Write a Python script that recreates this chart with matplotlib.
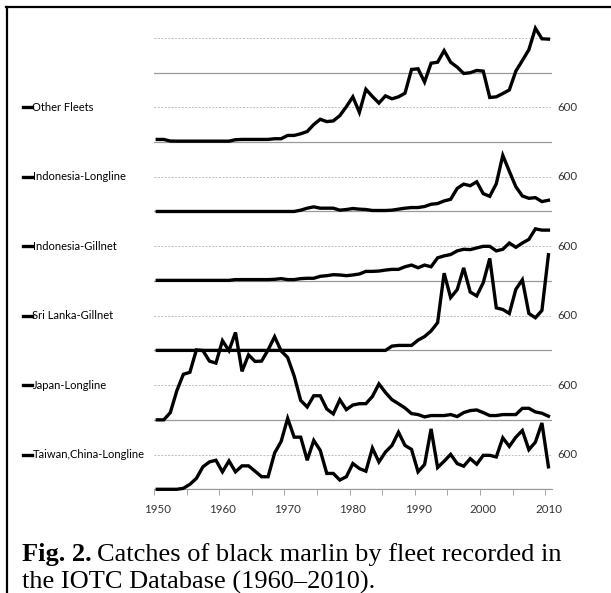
import matplotlib.pyplot as plt
import matplotlib.transforms as mtransforms
from matplotlib.lines import Line2D
import numpy as np

years = np.arange(1950, 2011)

# catches (t), 1950-2010
taiwan = [0, 0, 0, 0, 17, 86, 188, 388, 473, 502,
          302, 490, 302, 405, 405, 313, 217, 217, 627, 827,
          1225, 901, 901, 502, 844, 673, 274, 274, 160, 217,
          445, 359, 313, 712, 473, 644, 758, 986, 758, 690,
          302, 428, 1043, 376, 485, 604, 445, 399, 530, 433,
          587, 587, 559, 889, 741, 901, 1015, 684, 815, 1146,
          388]
japan = [0, 0, 125, 502, 787, 821, 1208, 1197, 1015, 981,
         1368, 1197, 1510, 838, 1123, 1009, 1015, 1208, 1436, 1191,
         1077, 758, 336, 222, 416, 416, 188, 103, 348, 177,
         256, 279, 279, 404, 621, 473, 348, 279, 205, 108,
         91, 51, 74, 74, 74, 91, 57, 125, 160, 171,
         125, 74, 74, 91, 91, 91, 199, 199, 137, 114,
         63]
sriLanka = [0] * 36 + [74, 86, 86, 86,
            177, 239, 336, 479, 1334, 912, 1049, 1425, 1009, 941,
            1169, 1590, 735, 707, 638, 1055, 1220, 638, 564, 690,
            1653]
indoGillnet = [10, 10, 10, 10, 10, 10, 10, 10, 10, 10,
               10, 10, 23, 23, 23, 23, 23, 23, 28, 40,
               23, 23, 40, 46, 46, 80, 91, 108, 103, 91,
               103, 120, 165, 165, 171, 188, 200, 200, 245, 274,
               228, 274, 245, 399, 433, 456, 519, 547, 541, 570,
               598, 598, 519, 547, 655, 581, 655, 718, 900, 878,
               878]
indoLongline = [0] * 22 + [23, 57, 80, 57, 57, 57, 23, 34,
                51, 40, 34, 17, 17, 17, 23, 40, 57, 68,
                68, 86, 125, 137, 182, 211, 399, 473, 445, 513,
                308, 262, 479, 969, 695, 428, 268, 228, 239, 171,
                194]
otherFleets = [45, 45, 17, 15, 15, 15, 15, 15, 15, 15,
               15, 15, 40, 45, 45, 45, 45, 45, 57, 57,
               114, 114, 143, 182, 302, 393, 353, 365, 456, 610,
               781, 513, 912, 787, 673, 798, 747, 781, 844, 1254,
               1265, 1037, 1362, 1379, 1579, 1379, 1294, 1185, 1197, 1237,
               1225, 770, 781, 838, 900, 1225, 1408, 1596, 1966, 1784,
               1778]

# bottom to top
fleetNames = ["Taiwan,China-Longline", "Japan-Longline", "Sri Lanka-Gillnet",
              "Indonesia-Gillnet", "Indonesia-Longline", "Other Fleets"]
fleetData = [taiwan, japan, sriLanka, indoGillnet, indoLongline, otherFleets]
step = 1200  # vertical offset between fleets

W, H = 611, 593
fig = plt.figure(figsize=(W / 100, H / 100), dpi=100)
ax = fig.add_axes([154 / W, 1 - 489.3 / H, 397.7 / W, (489.3 - 14.7) / H])
ax.set_xlim(1949.5, 2010.5)
ax.set_ylim(0, 8200)

labelFont = "Lato"

# grid lines: solid at each fleet baseline, dotted at +600
for k in range(7):
    ax.axhline(k * step, color="#9a9a9a", lw=0.9, zorder=1)
    ax.axhline(k * step + 600, color="#bdbdbd", lw=0.7, ls=(0, (2, 1.5)), zorder=1)

rightT = mtransforms.blended_transform_factory(ax.transAxes, ax.transData)
leftT = mtransforms.blended_transform_factory(fig.transFigure, ax.transData)

for i in range(len(fleetData)):
    off = i * step
    ax.plot(years, np.array(fleetData[i]) + off, color="black", lw=2.4,
            solid_joinstyle="miter", zorder=3, clip_on=False)
    ax.text(1.014, off + 600, "600", transform=rightT, ha="left", va="center",
            fontsize=8.3, family=labelFont, color="#333333")
    # legend-style label on the left
    fig.add_artist(Line2D([23 / W, 32 / W], [off + 600, off + 600], transform=leftT,
                          color="black", lw=2.4))
    ax.text(32.5 / W, off + 600, fleetNames[i], transform=leftT, ha="left",
            va="center", fontsize=8, family=labelFont, color="black")

for s in ["top", "right", "left"]:
    ax.spines[s].set_visible(False)
ax.spines["bottom"].set_color("#9a9a9a")
ax.set_yticks([])
ax.set_xticks(np.arange(1950, 2011, 10))
ax.set_xticks(np.arange(1949.5, 2011, 5), minor=True)
ax.tick_params(axis="x", which="major", length=0, pad=10.5, labelsize=8.3,
               labelcolor="#333333")
ax.tick_params(axis="x", which="minor", length=4, color="#9a9a9a")
for lab in ax.get_xticklabels():
    lab.set_family(labelFont)

# frame of the page box
fig.add_artist(Line2D([7 / W, 7 / W], [0, 1 - 7 / H], color="black", lw=1.6))
fig.add_artist(Line2D([6 / W, 1], [1 - 7 / H, 1 - 7 / H], color="black", lw=1.6))

# caption: bold "Fig. 2." followed by plain text
capFont = "Liberation Serif"
capSize = 19
t1 = fig.text(22 / W, 1 - 561 / H, "Fig. 2.", fontsize=capSize, family=capFont,
              weight="bold", va="baseline")
fig.canvas.draw()
bb = t1.get_window_extent()
fig.text((bb.x1 + 5) / W, 1 - 561 / H, "Catches of black marlin by fleet recorded in",
         fontsize=capSize, family=capFont, va="baseline")
fig.text(22 / W, 1 - 589 / H, "the IOTC Database (1960\u20132010).", fontsize=capSize,
         family=capFont, va="baseline")

plt.savefig("out.png", dpi=100)
